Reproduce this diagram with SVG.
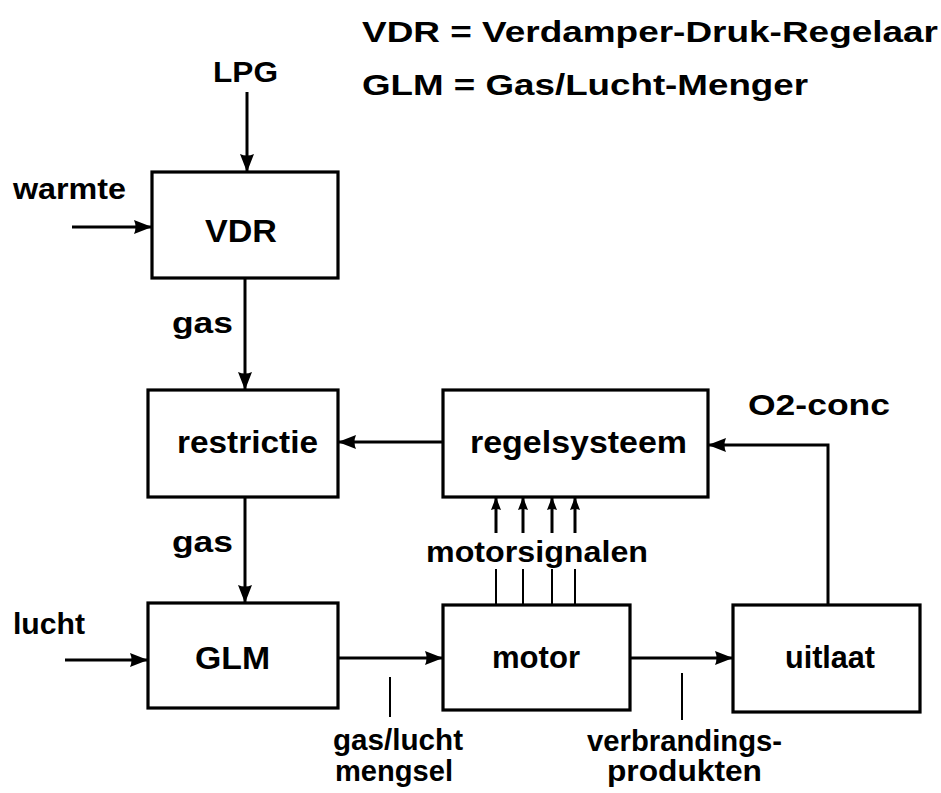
<svg xmlns="http://www.w3.org/2000/svg" width="941" height="793" viewBox="0 0 941 793">
<style>
text{font-family:"Liberation Sans",Arial,sans-serif;font-weight:bold;font-size:30px;fill:#000}
.big{font-size:32px}
.box{fill:#fff;stroke:#000;stroke-width:3.2}
.ln{fill:none;stroke:#000;stroke-width:3}
.thin{fill:none;stroke:#000;stroke-width:2}
</style>
<defs>
<marker id="ah" markerUnits="userSpaceOnUse" markerWidth="20" markerHeight="16" refX="18" refY="8" orient="auto">
<path d="M0,1 L18,8 L0,15 Q3,8 0,1 z" fill="#000"/>
</marker>
<marker id="ahs" markerUnits="userSpaceOnUse" markerWidth="14" markerHeight="12" refX="13" refY="6" orient="auto">
<path d="M0,1 L13,6 L0,11 Q2,6 0,1 z" fill="#000"/>
</marker>
</defs>
<g id="legend">
<text x="362" y="42" textLength="576" lengthAdjust="spacingAndGlyphs">VDR = Verdamper-Druk-Regelaar</text>
<text x="362" y="95" textLength="446" lengthAdjust="spacingAndGlyphs">GLM = Gas/Lucht-Menger</text>
</g>
<g id="connectors">
<line class="ln" x1="247" y1="92" x2="247" y2="172" marker-end="url(#ah)"/>
<line class="ln" x1="72" y1="227" x2="152" y2="227" marker-end="url(#ah)"/>
<line class="ln" x1="245" y1="278" x2="245" y2="390" marker-end="url(#ah)"/>
<line class="ln" x1="443" y1="442" x2="338" y2="442" marker-end="url(#ah)"/>
<line class="ln" x1="245" y1="497" x2="245" y2="603" marker-end="url(#ah)"/>
<line class="ln" x1="65" y1="660" x2="148" y2="660" marker-end="url(#ah)"/>
<line class="ln" x1="338" y1="658" x2="443" y2="658" marker-end="url(#ah)"/>
<line class="ln" x1="630" y1="658" x2="733" y2="658" marker-end="url(#ah)"/>
<polyline class="ln" points="828,605 828,445 708,445" marker-end="url(#ah)"/>
<line class="thin" x1="496" y1="569" x2="496" y2="605"/>
<line class="thin" x1="523" y1="569" x2="523" y2="605"/>
<line class="thin" x1="552" y1="569" x2="552" y2="605"/>
<line class="thin" x1="575" y1="569" x2="575" y2="605"/>
<line class="ln" x1="496" y1="533" x2="496" y2="497" marker-end="url(#ahs)"/>
<line class="ln" x1="523" y1="533" x2="523" y2="497" marker-end="url(#ahs)"/>
<line class="ln" x1="552" y1="533" x2="552" y2="497" marker-end="url(#ahs)"/>
<line class="ln" x1="575" y1="533" x2="575" y2="497" marker-end="url(#ahs)"/>
<line class="thin" x1="390" y1="677" x2="390" y2="717"/>
<line class="thin" x1="682" y1="673" x2="682" y2="720"/>
</g>
<g id="labels">
<text x="213" y="82" textLength="65" lengthAdjust="spacingAndGlyphs">LPG</text>
<text x="13" y="199" textLength="113" lengthAdjust="spacingAndGlyphs">warmte</text>
<text x="172" y="333" textLength="61" lengthAdjust="spacingAndGlyphs">gas</text>
<text x="172" y="552" textLength="61" lengthAdjust="spacingAndGlyphs">gas</text>
<text x="748" y="415" textLength="142" lengthAdjust="spacingAndGlyphs">O2-conc</text>
<text x="426" y="562" textLength="222" lengthAdjust="spacingAndGlyphs">motorsignalen</text>
<text x="13" y="634" textLength="72" lengthAdjust="spacingAndGlyphs">lucht</text>
<text x="333" y="750" textLength="130" lengthAdjust="spacingAndGlyphs">gas/lucht</text>
<text x="335" y="781" textLength="118" lengthAdjust="spacingAndGlyphs">mengsel</text>
<text x="587" y="751" textLength="195" lengthAdjust="spacingAndGlyphs">verbrandings-</text>
<text x="607" y="781" textLength="155" lengthAdjust="spacingAndGlyphs">produkten</text>
</g>
<g id="VDR">
<rect class="box" x="152" y="172" width="186" height="106"/>
<text class="big" x="205" y="242" textLength="72" lengthAdjust="spacingAndGlyphs">VDR</text>
</g>
<g id="restrictie">
<rect class="box" x="148" y="390" width="190" height="107"/>
<text class="big" x="177" y="453" textLength="141" lengthAdjust="spacingAndGlyphs">restrictie</text>
</g>
<g id="regelsysteem">
<rect class="box" x="443" y="390" width="265" height="107"/>
<text class="big" x="470" y="453" textLength="217" lengthAdjust="spacingAndGlyphs">regelsysteem</text>
</g>
<g id="GLM">
<rect class="box" x="148" y="603" width="190" height="105"/>
<text class="big" x="195" y="669" textLength="75" lengthAdjust="spacingAndGlyphs">GLM</text>
</g>
<g id="motor">
<rect class="box" x="443" y="605" width="187" height="105"/>
<text class="big" x="492" y="668" textLength="88" lengthAdjust="spacingAndGlyphs">motor</text>
</g>
<g id="uitlaat">
<rect class="box" x="733" y="605" width="187" height="107"/>
<text class="big" x="785" y="668" textLength="90" lengthAdjust="spacingAndGlyphs">uitlaat</text>
</g>
</svg>
